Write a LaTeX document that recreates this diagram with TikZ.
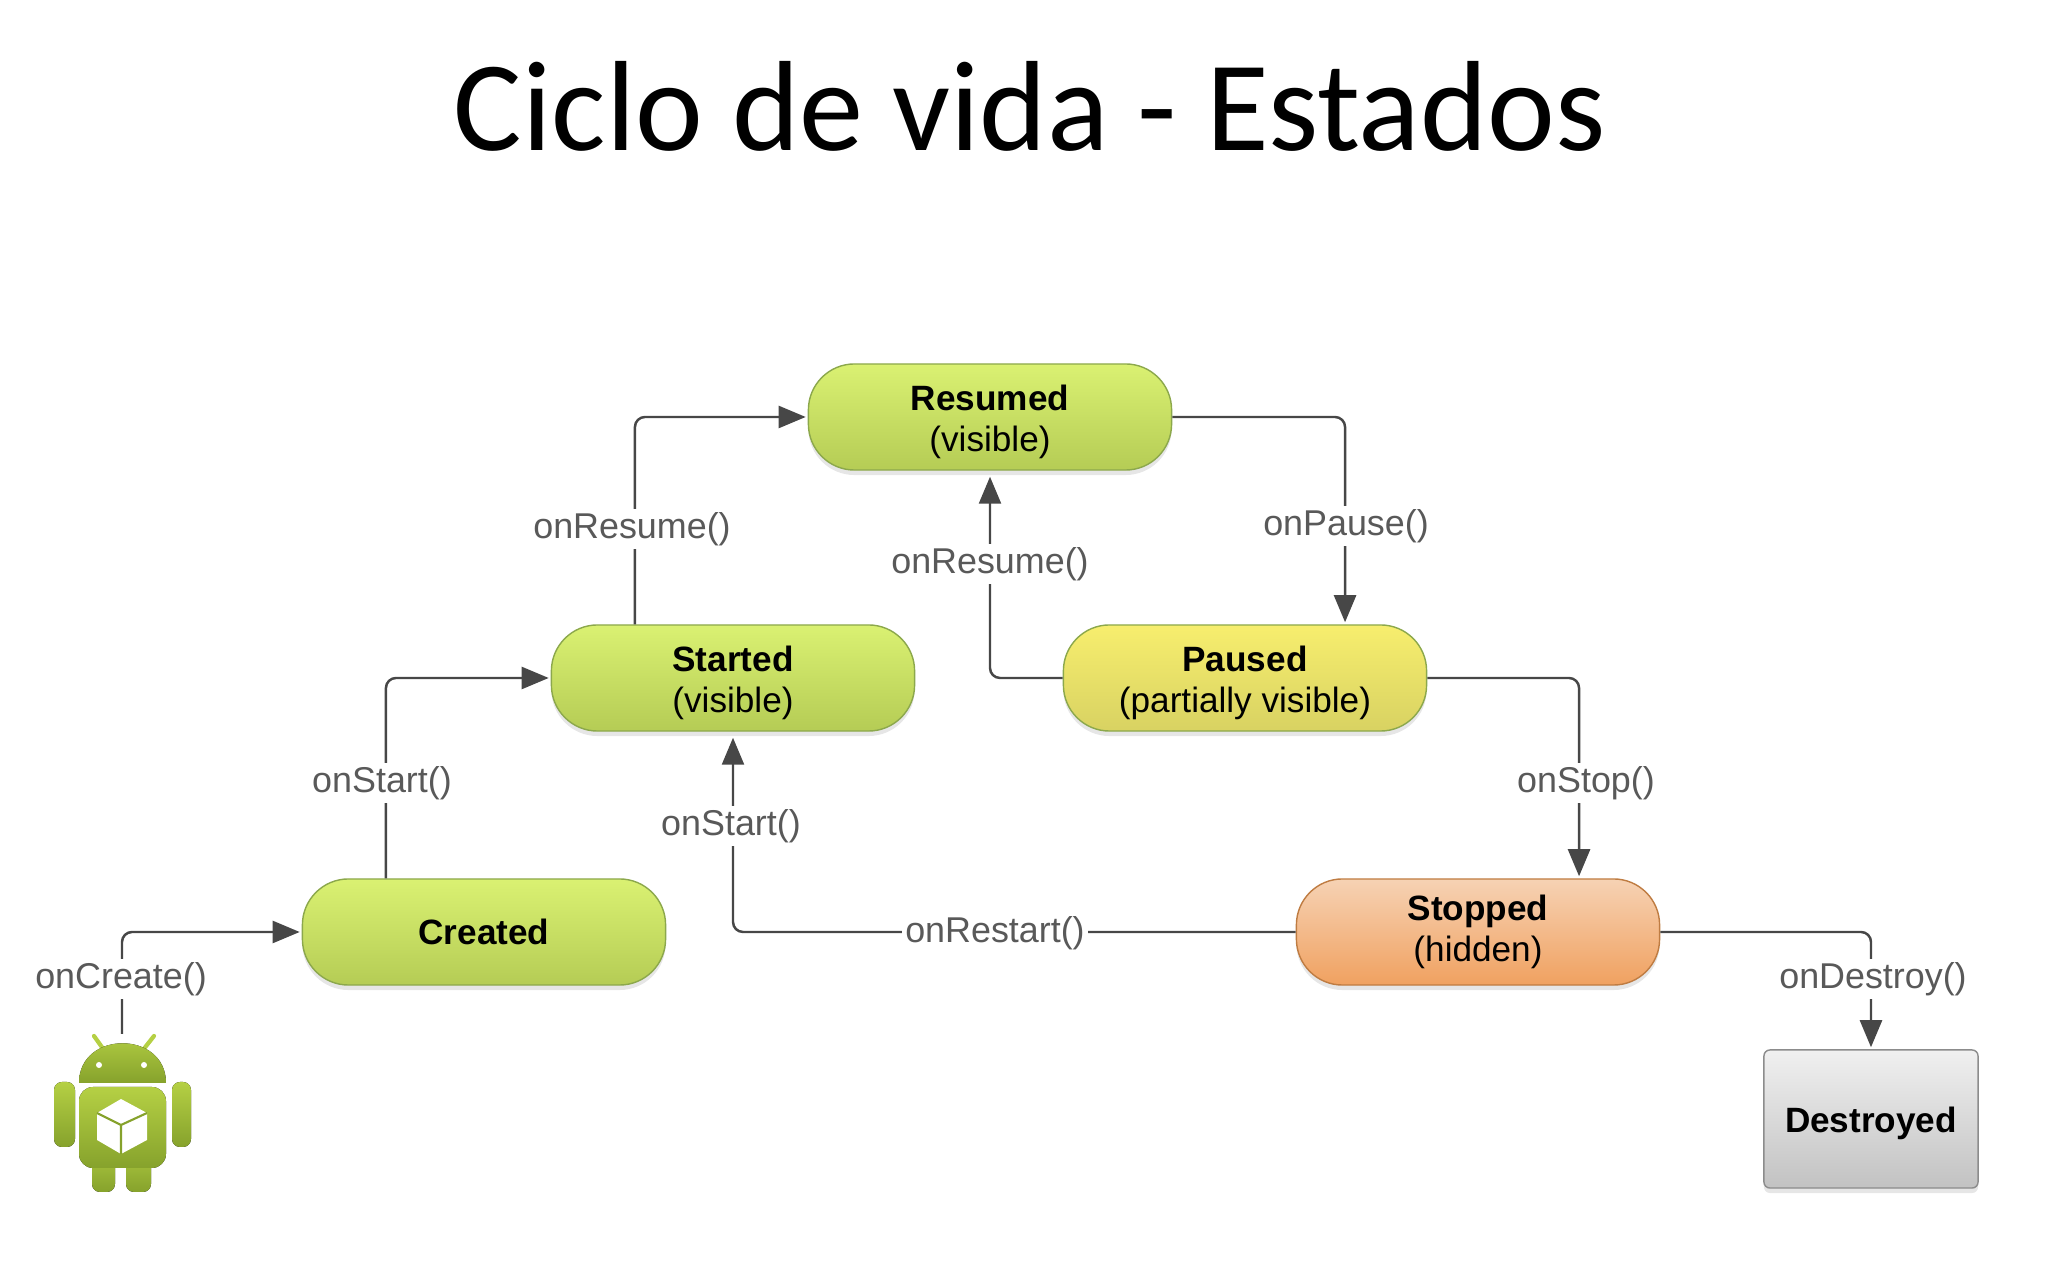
\documentclass[tikz,border=0pt]{standalone}
\usepackage{fontspec}
\setmainfont{Liberation Sans}
\newfontfamily\titlefont{Carlito}
\usetikzlibrary{shapes, arrows.meta, shadows}

\definecolor{greentop}{HTML}{DAF172}
\definecolor{greenbot}{HTML}{B5CC55}
\definecolor{greenline}{HTML}{8CA84C}
\definecolor{yellowtop}{HTML}{F7EE6E}
\definecolor{yellowbot}{HTML}{D8D262}
\definecolor{orangetop}{HTML}{F6D2B4}
\definecolor{orangebot}{HTML}{F0A160}
\definecolor{orangeline}{HTML}{BF7C42}
\definecolor{greytop}{HTML}{F0F0F0}
\definecolor{greybot}{HTML}{C2C2C2}
\definecolor{droidtop}{HTML}{B5D044}
\definecolor{droidbot}{HTML}{86A22C}

\newcommand{\lowline}{\rule{0pt}{10pt}}

\tikzset{
	state/.style={rectangle, rounded corners=0.46cm, minimum width=3.63cm, minimum height=1.06cm, inner sep=0pt,
		align=center, font=\fontsize{10}{11.6}\selectfont,
		drop shadow={shadow xshift=0pt, shadow yshift=-0.05cm, opacity=.2}},
	greenstate/.style={state, draw=greenline, top color=greentop, bottom color=greenbot},
	flow/.style={draw=black!72, line width=0.7pt, rounded corners=0.1cm},
	flowarrow/.style={flow, -{Triangle[length=0.27cm, width=0.22cm]}, shorten >=0.02cm},
	lbl/.style={fill=white, inner sep=1pt, text=black!65, font=\fontsize{10.2}{12}\selectfont},
	droid/.style={top color=droidtop, bottom color=droidbot}
}

\begin{document}
\begin{tikzpicture}[x=0.01cm, y=-0.01cm]
		\useasboundingbox (0,0) rectangle (2056,1286);
		\node[anchor=base, font=\titlefont\fontsize{36.5}{40}\selectfont] (title) at (1030,151) {Ciclo de vida - Estados};
		% states
		\node[greenstate] (resumed) at (990,417) {\lowline\textbf{Resumed}\\(visible)};
		\node[greenstate] (started) at (733,678) {\lowline\textbf{Started}\\(visible)};
		\node[state, draw=greenline, top color=yellowtop, bottom color=yellowbot] (paused) at (1245,678) {\lowline\textbf{Paused}\\(partially visible)};
		\node[greenstate] (created) at (484,932) {\textbf{Created}};
		\node[state, draw=orangeline, top color=orangetop, bottom color=orangebot] (stopped) at (1478,932) {\textbf{Stopped}\\(hidden)};
		\node[state, rounded corners=0.06cm, minimum width=2.14cm, minimum height=1.38cm, draw=black!45, top color=greytop, bottom color=greybot] (destroyed) at (1871,1119) {\rule{0pt}{10pt}\textbf{Destroyed}};
		% android
		\fill[droid, rounded corners=0.08cm] (92,1140) rectangle (115,1192);
		\fill[droid, rounded corners=0.08cm] (126,1140) rectangle (151,1192);
		\fill[droid, rounded corners=0.08cm] (54,1082) rectangle (75,1147);
		\fill[droid, rounded corners=0.08cm] (172,1082) rectangle (191,1147);
		\draw[droidtop, line width=1.2pt, line cap=round] (104,1050) -- (94,1036);
		\draw[droidtop, line width=1.2pt, line cap=round] (143,1050) -- (154,1036);
		\fill[droid] (79,1083) .. controls (79,1030) and (166,1030) .. (166,1083) -- cycle;
		\fill[droid, rounded corners=0.14cm] (79,1087) -- (166,1087) -- (166,1168) -- (79,1168) -- cycle;
		\fill[white] (99,1065) circle (3);
		\fill[white] (144,1065) circle (3);
		\fill[white] (121,1099) -- (147,1113) -- (147,1140) -- (121,1154) -- (97,1140) -- (97,1113) -- cycle;
		\draw[droidbot, line width=0.6pt] (97,1113) -- (121,1125) -- (147,1113) (121,1125) -- (121,1154);
		\coordinate (android) at (122,1034);
		% connectors
		\draw[flowarrow] (android) |- (created.west);
		\draw[flowarrow] ([xshift=-0.98cm]created.north) |- (started.west);
		\draw[flowarrow] ([xshift=-0.98cm]started.north) |- (resumed.west);
		\draw[flowarrow] (resumed.east) -| ([xshift=1cm]paused.north);
		\draw[flowarrow] (paused.west) -| ([yshift=-0.04cm]resumed.south);
		\draw[flowarrow] (paused.east) -| ([xshift=1.01cm]stopped.north);
		\draw[flowarrow] (stopped.west) -| ([yshift=-0.04cm]started.south);
		\draw[flowarrow] (stopped.east) -| (destroyed.north);
		% labels
		\node[lbl] (oncreate) at (121,979) {onCreate()};
		\node[lbl] (onstarta) at (382,783) {onStart()};
		\node[lbl] (onresumea) at (632,529) {onResume()};
		\node[lbl] (onpause) at (1346,526) {onPause()};
		\node[lbl] (onresumeb) at (990,564) {onResume()};
		\node[lbl] (onstop) at (1586,783) {onStop()};
		\node[lbl] (onstartb) at (731,826) {onStart()};
		\node[lbl] (onrestart) at (995,933) {onRestart()};
		\node[lbl] (ondestroy) at (1873,979) {onDestroy()};
	\end{tikzpicture}
\end{document}
